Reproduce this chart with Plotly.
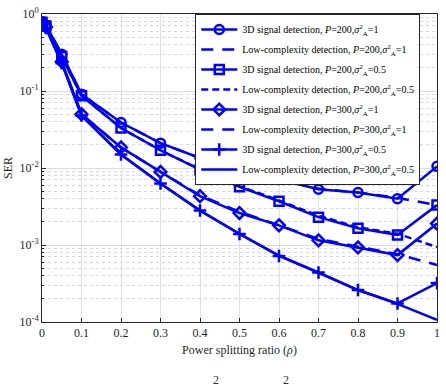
import plotly.graph_objects as go

rho = [0, 0.01, 0.05, 0.1, 0.2, 0.3, 0.4, 0.5, 0.6, 0.7, 0.8, 0.9, 1.0]

ser_3d_p200_s1 = [0.80, 0.72, 0.30, 0.091, 0.039, 0.021, 0.0135, 0.0095, 0.0071, 0.0053, 0.0048, 0.0040, 0.0105]
ser_lc_p200_s1 = [0.80, 0.72, 0.30, 0.091, 0.039, 0.021, 0.0135, 0.0095, 0.0071, 0.0054, 0.0048, 0.0041, 0.0033]
ser_3d_p200_s05 = [0.78, 0.70, 0.28, 0.087, 0.033, 0.017, 0.0095, 0.0057, 0.0037, 0.0023, 0.00165, 0.00135, 0.0033]
ser_lc_p200_s05 = [0.78, 0.70, 0.28, 0.087, 0.033, 0.017, 0.0096, 0.0058, 0.0038, 0.0024, 0.0017, 0.0014, 0.00094]
ser_3d_p300_s1 = [0.75, 0.68, 0.24, 0.050, 0.0185, 0.0089, 0.0043, 0.0026, 0.0018, 0.00115, 0.00093, 0.00074, 0.0019]
ser_lc_p300_s1 = [0.75, 0.68, 0.24, 0.050, 0.0185, 0.0089, 0.0044, 0.0027, 0.0018, 0.0012, 0.00095, 0.00076, 0.00055]
ser_3d_p300_s05 = [0.73, 0.66, 0.23, 0.048, 0.015, 0.0063, 0.0028, 0.00139, 0.00072, 0.00044, 0.00026, 0.000174, 0.00032]
ser_lc_p300_s05 = [0.73, 0.66, 0.23, 0.048, 0.015, 0.0063, 0.0028, 0.00140, 0.00073, 0.00044, 0.00026, 0.000172, 0.000107]

names = [
    "3D signal detection, <i>P</i>=200,<i>σ</i><sup>2</sup><sub>A</sub>=1",
    "Low-complexity detection, <i>P</i>=200,<i>σ</i><sup>2</sup><sub>A</sub>=1",
    "3D signal detection, <i>P</i>=200,<i>σ</i><sup>2</sup><sub>A</sub>=0.5",
    "Low-complexity detection, <i>P</i>=200,<i>σ</i><sup>2</sup><sub>A</sub>=0.5",
    "3D signal detection, <i>P</i>=300,<i>σ</i><sup>2</sup><sub>A</sub>=1",
    "Low-complexity detection, <i>P</i>=300,<i>σ</i><sup>2</sup><sub>A</sub>=1",
    "3D signal detection, <i>P</i>=300,<i>σ</i><sup>2</sup><sub>A</sub>=0.5",
    "Low-complexity detection, <i>P</i>=300,<i>σ</i><sup>2</sup><sub>A</sub>=0.5",
]
series = [ser_3d_p200_s1, ser_lc_p200_s1, ser_3d_p200_s05, ser_lc_p200_s05,
          ser_3d_p300_s1, ser_lc_p300_s1, ser_3d_p300_s05, ser_lc_p300_s05]
markers = ["circle-open", None, "square-open", None, "diamond-open", None, "cross-thin-open", None]
dashes = ["solid", "12px,9px", "solid", "7px,4px", "solid", "12px,9px", "solid", "solid"]

blue = "#0000FF"
font = "Liberation Serif"
fig = go.Figure()
for i, (nm, ys, mk, ds) in enumerate(zip(names, series, markers, dashes)):
    if mk:
        fig.add_trace(go.Scatter(x=rho, y=ys, name=nm, mode="lines+markers", legendgroup=f"g{i}",
                                 line=dict(color=blue, width=2.5, dash=ds),
                                 marker=dict(symbol=mk, size=9, color=blue,
                                             line=dict(color=blue, width=2.5))))
    else:
        fig.add_trace(go.Scatter(x=rho, y=ys, name=nm, mode="lines", legendgroup=f"g{i}",
                                 line=dict(color=blue, width=2.5, dash=ds)))

fig.update_layout(
    width=446, height=392,
    margin=dict(l=42, r=7, t=6, b=70),
    paper_bgcolor="white", plot_bgcolor="white",
    font=dict(family=font, size=12, color="#262626"),
    showlegend=True,
    legend=dict(x=0.388, y=1.0, xanchor="left", yanchor="top",
                bgcolor="white", bordercolor="#262626", borderwidth=1,
                font=dict(family=font, size=10, color="black"),
                tracegroupgap=1, itemwidth=36),
    xaxis=dict(range=[0, 1], tickvals=[0, 0.1, 0.2, 0.3, 0.4, 0.5, 0.6, 0.7, 0.8, 0.9, 1],
               ticktext=["0", "0.1", "0.2", "0.3", "0.4", "0.5", "0.6", "0.7", "0.8", "0.9", "1"],
               ticklabeloverflow="allow",
               showgrid=True, gridcolor="#e0e0e0", gridwidth=1,
               showline=True, linecolor="#262626", linewidth=1, mirror=True,
               ticks="inside", ticklen=4, tickcolor="#262626",
               zeroline=False,
               title=dict(text="Power splitting ratio (<i>ρ</i>)", standoff=6,
                          font=dict(family=font, size=12, color="#262626"))),
    yaxis=dict(type="log", range=[-4, 0],
               tickvals=[1e-4, 1e-3, 1e-2, 1e-1, 1],
               ticktext=["10<sup>-4</sup>", "10<sup>-3</sup>", "10<sup>-2</sup>", "10<sup>-1</sup>", "10<sup>0</sup>"],
               ticklabeloverflow="allow",
               showgrid=True, gridcolor="#dcdcdc", gridwidth=1,
               minor=dict(tickvals=[m * 10 ** e for e in range(-4, 0) for m in range(2, 10)],
                          showgrid=True, gridcolor="#d8d8d8", griddash="dot",
                          ticks="inside", ticklen=2, tickcolor="#262626"),
               showline=True, linecolor="#262626", linewidth=1, mirror=True,
               ticks="inside", ticklen=4, tickcolor="#262626",
               zeroline=False,
               title=dict(text="SER", standoff=4,
                          font=dict(family=font, size=12, color="#262626"))),
)

for xp in [217, 287]:
    fig.add_annotation(text="2", xref="paper", yref="paper",
                       x=(xp - 42) / 397, y=(322 - 391) / 316,
                       xanchor="center", yanchor="bottom", showarrow=False,
                       font=dict(family=font, size=12, color="#333"))

fig.write_html("out.html", config={"displayModeBar": False},
               post_script="document.body.style.margin='0';document.body.style.overflow='hidden';")
